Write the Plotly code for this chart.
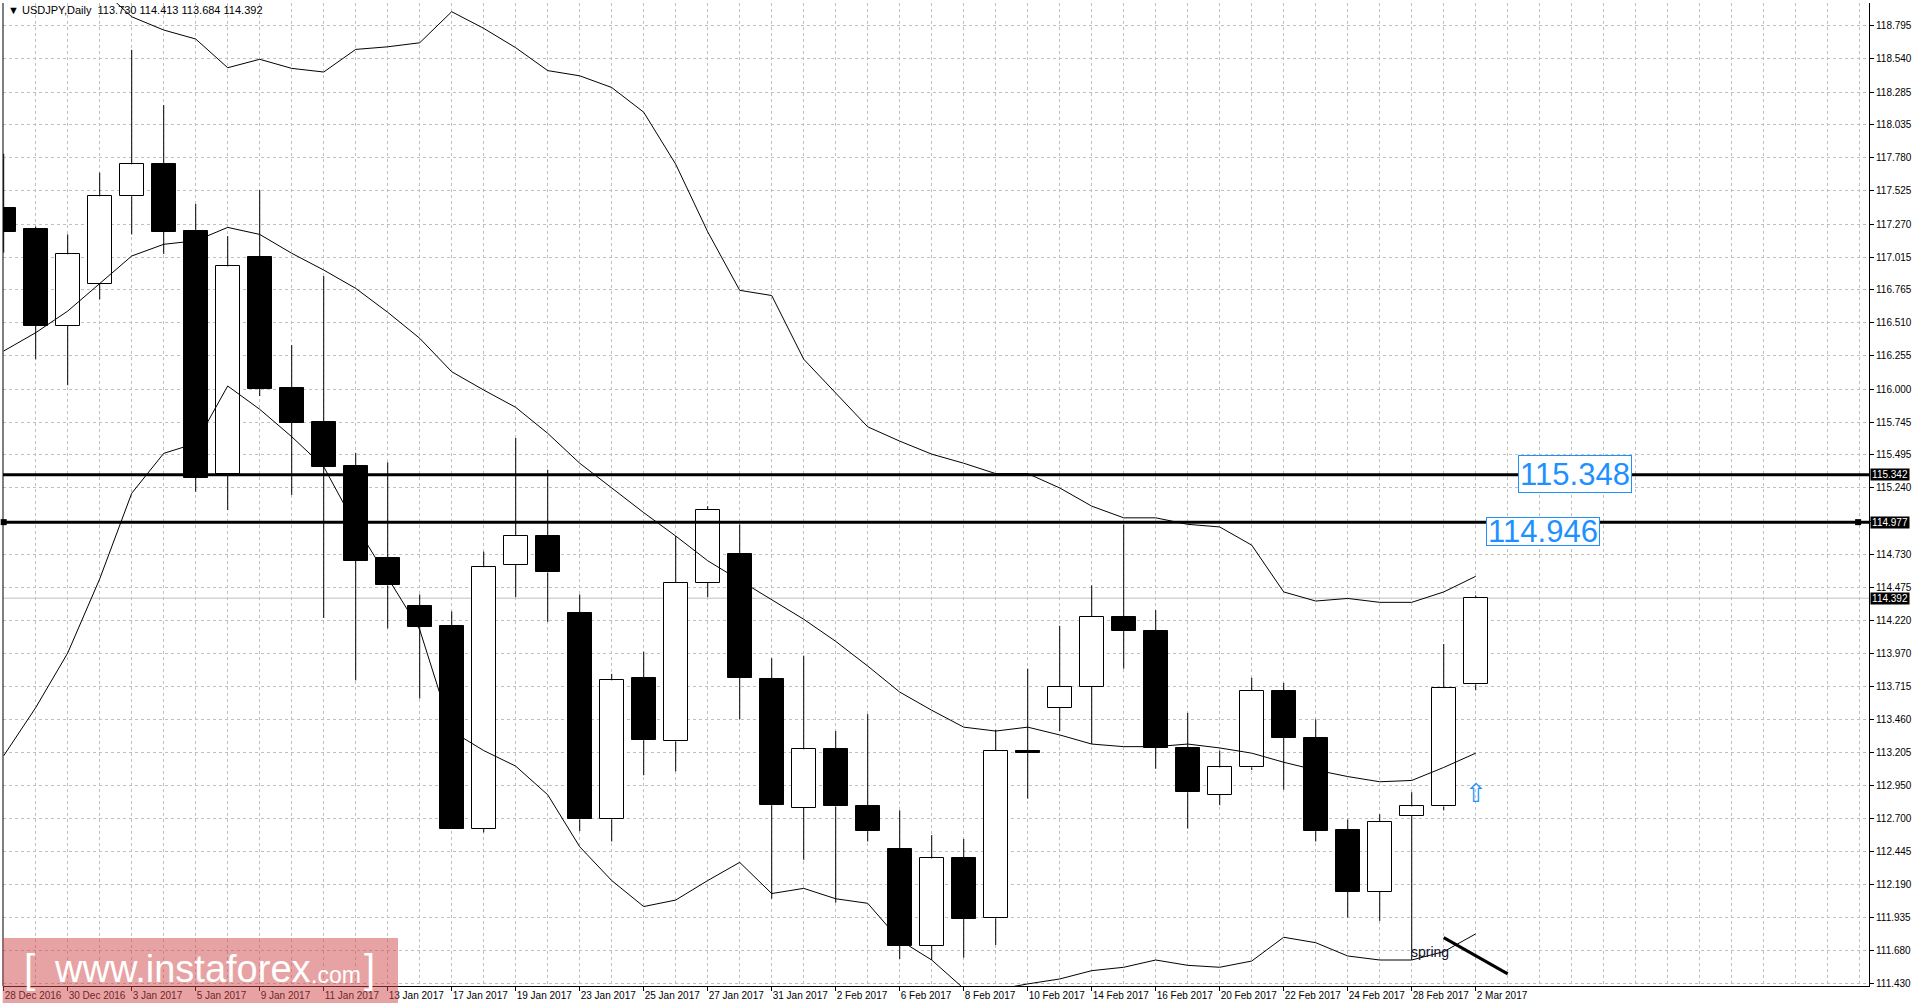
import plotly.graph_objects as go

# ---------------- data ----------------
dates = ["28 Dec 2016", "29 Dec 2016", "30 Dec 2016", "2 Jan 2017", "3 Jan 2017", "4 Jan 2017",
         "5 Jan 2017", "6 Jan 2017", "9 Jan 2017", "10 Jan 2017", "11 Jan 2017", "12 Jan 2017",
         "13 Jan 2017", "16 Jan 2017", "17 Jan 2017", "18 Jan 2017", "19 Jan 2017", "20 Jan 2017",
         "23 Jan 2017", "24 Jan 2017", "25 Jan 2017", "26 Jan 2017", "27 Jan 2017", "30 Jan 2017",
         "31 Jan 2017", "1 Feb 2017", "2 Feb 2017", "3 Feb 2017", "6 Feb 2017", "7 Feb 2017",
         "8 Feb 2017", "9 Feb 2017", "10 Feb 2017", "13 Feb 2017", "14 Feb 2017", "15 Feb 2017",
         "16 Feb 2017", "17 Feb 2017", "20 Feb 2017", "21 Feb 2017", "22 Feb 2017", "23 Feb 2017",
         "24 Feb 2017", "27 Feb 2017", "28 Feb 2017", "1 Mar 2017", "2 Mar 2017"]

open_ = [117.393, 117.230, 116.488, 116.810, 117.483, 117.730, 117.216, 115.347, 117.016, 116.006,
         115.745, 115.410, 114.700, 114.330, 114.180, 112.620, 114.650, 114.870, 114.280, 112.690,
         113.780, 113.290, 114.510, 114.730, 113.770, 112.780, 113.230, 112.790, 112.460, 111.719,
         112.390, 111.930, 113.220, 113.550, 113.710, 114.250, 114.140, 113.240, 112.880, 113.090,
         113.680, 113.320, 112.610, 112.133, 112.720, 112.790, 113.730]
high = [117.810, 117.250, 117.190, 117.665, 118.610, 118.185, 117.424, 117.177, 117.531, 116.339,
        116.870, 115.510, 115.437, 114.420, 114.290, 114.750, 115.624, 115.380, 114.420, 113.810,
        113.980, 114.870, 115.100, 114.960, 113.930, 113.950, 113.370, 113.500, 112.760, 112.570,
        112.540, 113.380, 113.850, 114.180, 114.490, 114.960, 114.300, 113.510, 113.220, 113.780,
        113.740, 113.460, 112.690, 112.730, 112.900, 114.040, 114.413]
low = [117.050, 116.230, 116.030, 116.690, 117.190, 117.040, 115.211, 115.070, 115.947, 115.186,
       114.240, 113.760, 114.160, 113.620, 112.620, 112.590, 114.400, 114.210, 112.600, 112.520,
       113.030, 113.060, 114.400, 113.460, 112.080, 112.380, 112.050, 112.520, 111.617, 111.609,
       111.627, 111.724, 112.850, 113.370, 113.270, 113.850, 113.080, 112.620, 112.800, 113.070,
       112.920, 112.520, 111.936, 111.910, 111.609, 112.760, 113.684]
close = [117.210, 116.488, 117.037, 117.483, 117.729, 117.210, 115.318, 116.944, 116.003, 115.742,
         115.403, 114.680, 114.490, 114.170, 112.620, 114.630, 114.870, 114.590, 112.690, 113.760,
         113.300, 114.510, 115.070, 113.780, 112.800, 113.230, 112.790, 112.600, 111.719, 112.390,
         111.925, 113.220, 113.200, 113.710, 114.250, 114.140, 113.240, 112.900, 113.090, 113.680,
         113.320, 112.600, 112.133, 112.670, 112.790, 113.700, 114.392]

bb_upper = [119.41, 119.32, 119.23, 119.09, 118.864, 118.762, 118.693, 118.472, 118.537, 118.467,
            118.439, 118.613, 118.633, 118.664, 118.903, 118.775, 118.626, 118.45, 118.41, 118.32,
            118.13, 117.73, 117.21, 116.76, 116.72, 116.23, 115.97, 115.71, 115.60, 115.50,
            115.43, 115.35, 115.35, 115.24, 115.10, 115.01, 115.01, 114.96, 114.94, 114.80,
            114.44, 114.37, 114.39, 114.36, 114.36, 114.44, 114.56]
bb_middle = [116.293, 116.434, 116.60, 116.814, 117.024, 117.114, 117.141, 117.244, 117.19, 117.045,
             116.916, 116.775, 116.591, 116.391, 116.134, 115.993, 115.86, 115.66, 115.43, 115.24,
             115.05, 114.87, 114.68, 114.53, 114.38, 114.23, 114.06, 113.87, 113.67, 113.53,
             113.40, 113.37, 113.40, 113.34, 113.27, 113.25, 113.25, 113.27, 113.24, 113.20,
             113.13, 113.07, 113.02, 112.98, 112.99, 113.09, 113.20]
bb_lower = [113.18, 113.55, 113.97, 114.54, 115.199, 115.506, 115.583, 116.024, 115.845, 115.634,
            115.403, 114.95, 114.55, 114.15, 113.37, 113.22, 113.10, 112.88, 112.48, 112.22,
            112.02, 112.07, 112.22, 112.36, 112.12, 112.16, 112.08, 112.045, 111.762, 111.609,
            111.39, 111.38, 111.425, 111.463, 111.527, 111.553, 111.609, 111.568, 111.553, 111.601,
            111.784, 111.742, 111.64, 111.609, 111.609, 111.673, 111.81]

y_ticks = [118.795, 118.540, 118.285, 118.035, 117.780, 117.525, 117.270, 117.015, 116.765, 116.510,
           116.255, 116.000, 115.745, 115.495, 115.240, 114.985, 114.730, 114.475, 114.220, 113.970,
           113.715, 113.460, 113.205, 112.950, 112.700, 112.445, 112.190, 111.935, 111.680, 111.430]
y_hidden = [114.985]   # tick label hidden behind the 114.977 price tag

levels = [115.342, 114.977]
level_labels = ["115.348", "114.946"]
level_anchor_idx = [0.0, 57.95]
bid_price = 114.392
header = "\u25bc USDJPY,Daily  113.730 114.413 113.684 114.392"
trend_idx = [45.0, 47.0]
trend_price = [111.781, 111.502]

# ---------------- figure ----------------
W, H = 1912, 1007
ML, MR, MT, MB = 3, 43, 3, 21
x_range = [-0.022, 58.29]
y_range = [111.409, 118.970]

idx = list(range(len(dates)))
FONT = "Liberation Sans, Arial, sans-serif"

fig = go.Figure()

# Bollinger bands
for band in (bb_upper, bb_middle, bb_lower):
    fig.add_trace(go.Scatter(x=idx, y=band, mode="lines",
                             line=dict(color="black", width=1), hoverinfo="skip",
                             showlegend=False))

# wicks (outside the bodies)
wx, wy = [], []
for i in idx:
    top = max(open_[i], close[i])
    bot = min(open_[i], close[i])
    wx += [i, i, None, i, i, None]
    wy += [top, high[i], None, low[i], bot, None]
fig.add_trace(go.Scatter(x=wx, y=wy, mode="lines", line=dict(color="black", width=1),
                         hoverinfo="skip", showlegend=False))

# bodies
base = [min(o, c) for o, c in zip(open_, close)]
height = [max(abs(c - o), 0.012) for o, c in zip(open_, close)]
colors = ["white" if c >= o else "black" for o, c in zip(open_, close)]
fig.add_trace(go.Bar(x=idx, y=height, base=base, width=0.76,
                     marker=dict(color=colors, line=dict(color="black", width=1)),
                     hoverinfo="skip", showlegend=False))

# end squares of the 114.977 line
fig.add_trace(go.Scatter(x=level_anchor_idx, y=[levels[1]] * 2, mode="markers",
                         marker=dict(symbol="square", size=6, color="black"),
                         hoverinfo="skip", showlegend=False, cliponaxis=False))

shapes = []
# bid line
shapes.append(dict(type="line", xref="paper", x0=0, x1=1, yref="y", y0=bid_price, y1=bid_price,
                   line=dict(color="#c0c0c0", width=1), layer="below"))
# horizontal levels
for lv in levels:
    shapes.append(dict(type="line", xref="paper", x0=0, x1=1, yref="y", y0=lv, y1=lv,
                       line=dict(color="black", width=3)))
# left border
shapes.append(dict(type="line", xref="paper", x0=0, x1=0, yref="paper", y0=0, y1=1,
                   line=dict(color="black", width=1)))
# trend line near "spring"
shapes.append(dict(type="line", xref="x", yref="y", x0=trend_idx[0], x1=trend_idx[1],
                   y0=trend_price[0], y1=trend_price[1], line=dict(color="black", width=3)))

pw = W - ML - MR
ph = H - MT - MB


def px_x(f):
    return (f - ML) / pw


def px_y(f):
    return (H - MB - f) / ph


# watermark rectangle
shapes.append(dict(type="rect", xref="paper", yref="paper", x0=px_x(2.7), x1=px_x(398),
                   y0=px_y(1003), y1=px_y(938), fillcolor="rgba(208,72,72,0.5)",
                   line=dict(width=0), layer="above"))

annotations = []
# header
annotations.append(dict(xref="paper", yref="paper", x=px_x(6), y=px_y(10.5), xanchor="left",
                        yanchor="middle", text=header, showarrow=False,
                        font=dict(family=FONT, size=11, color="black")))
# level labels (blue boxes)
annotations.append(dict(xref="paper", yref="paper", x=px_x(1575), y=px_y(474),
                        xanchor="center", yanchor="middle",
                        text=level_labels[0], showarrow=False, width=112, height=36,
                        bgcolor="white", bordercolor="#1E90FF", borderwidth=1, borderpad=0,
                        font=dict(family=FONT, size=31, color="#1E90FF")))
annotations.append(dict(xref="paper", yref="paper", x=px_x(1542.7), y=px_y(531),
                        xanchor="center", yanchor="middle",
                        text=level_labels[1], showarrow=False, width=112, height=27,
                        bgcolor="white", bordercolor="#1E90FF", borderwidth=1, borderpad=0,
                        font=dict(family=FONT, size=31, color="#1E90FF")))
# price tags on axis
for val, txt in ((levels[0], "115.342"), (levels[1], "114.977"), (bid_price, "114.392")):
    annotations.append(dict(xref="paper", x=1, xanchor="left", xshift=1, yref="y", y=val,
                            yanchor="middle", text=txt, showarrow=False, bgcolor="black",
                            width=38, height=11, borderpad=0,
                            font=dict(family=FONT, size=10, color="white")))
# blue arrow
annotations.append(dict(xref="paper", yref="paper", x=px_x(1476), y=px_y(793), text="\u21e7",
                        xanchor="center", yanchor="middle",
                        showarrow=False, font=dict(family="DejaVu Sans", size=26, color="#1E90FF")))
# spring
annotations.append(dict(xref="paper", yref="paper", x=px_x(1409), y=px_y(952), xanchor="left",
                        yanchor="middle", text="spring", showarrow=False,
                        font=dict(family=FONT, size=14, color="#10102a")))
# watermark text
wm_font = "Liberation Sans, Arial, sans-serif"
for txt, xf, yf, sz in (("[", 22, 969, 40), ("www.instaforex", 52, 969, 38),
                        (".com", 309, 975, 23), ("]", 362, 969, 40)):
    annotations.append(dict(xref="paper", yref="paper", x=px_x(xf), y=px_y(yf), xanchor="left",
                            yanchor="middle", text=txt, showarrow=False,
                            font=dict(family=wm_font, size=sz, color="white")))

grid_color = "#c0c0c0"
fig.update_layout(
    width=W, height=H,
    margin=dict(l=ML, r=MR, t=MT, b=MB, pad=0, autoexpand=False),
    plot_bgcolor="white", paper_bgcolor="white",
    showlegend=False, bargap=0, hovermode=False,
    font=dict(family=FONT, size=10, color="black"),
    shapes=shapes, annotations=annotations,
    xaxis=dict(range=x_range, tickmode="array", tickvals=idx[::2], ticktext=dates[::2],
               tickangle=0, automargin=False,
               ticks="outside", ticklen=4, tickcolor="black", showline=True, linecolor="black",
               linewidth=1, showgrid=True, gridcolor=grid_color, griddash="3px,3px", gridwidth=1,
               zeroline=False, ticklabelposition="outside right",
               tickfont=dict(family=FONT, size=10, color="black"),
               minor=dict(tickmode="linear", tick0=0, dtick=1, showgrid=True, gridcolor=grid_color,
                          griddash="3px,3px", gridwidth=1, ticks="")),
    yaxis=dict(range=y_range, side="right", tickmode="array", tickvals=y_ticks,
               ticktext=["" if v in y_hidden else "%.3f" % v for v in y_ticks],
               automargin=False, ticks="outside", ticklen=4,
               tickcolor="black", showline=True, linecolor="black", linewidth=1,
               showgrid=True, gridcolor=grid_color, griddash="3px,3px", gridwidth=1,
               zeroline=False, tickfont=dict(family=FONT, size=10, color="black")),
)

fig.write_html("out.html", config={"displayModeBar": False},
               post_script="document.body.style.margin='0';document.body.style.overflow='hidden';")
